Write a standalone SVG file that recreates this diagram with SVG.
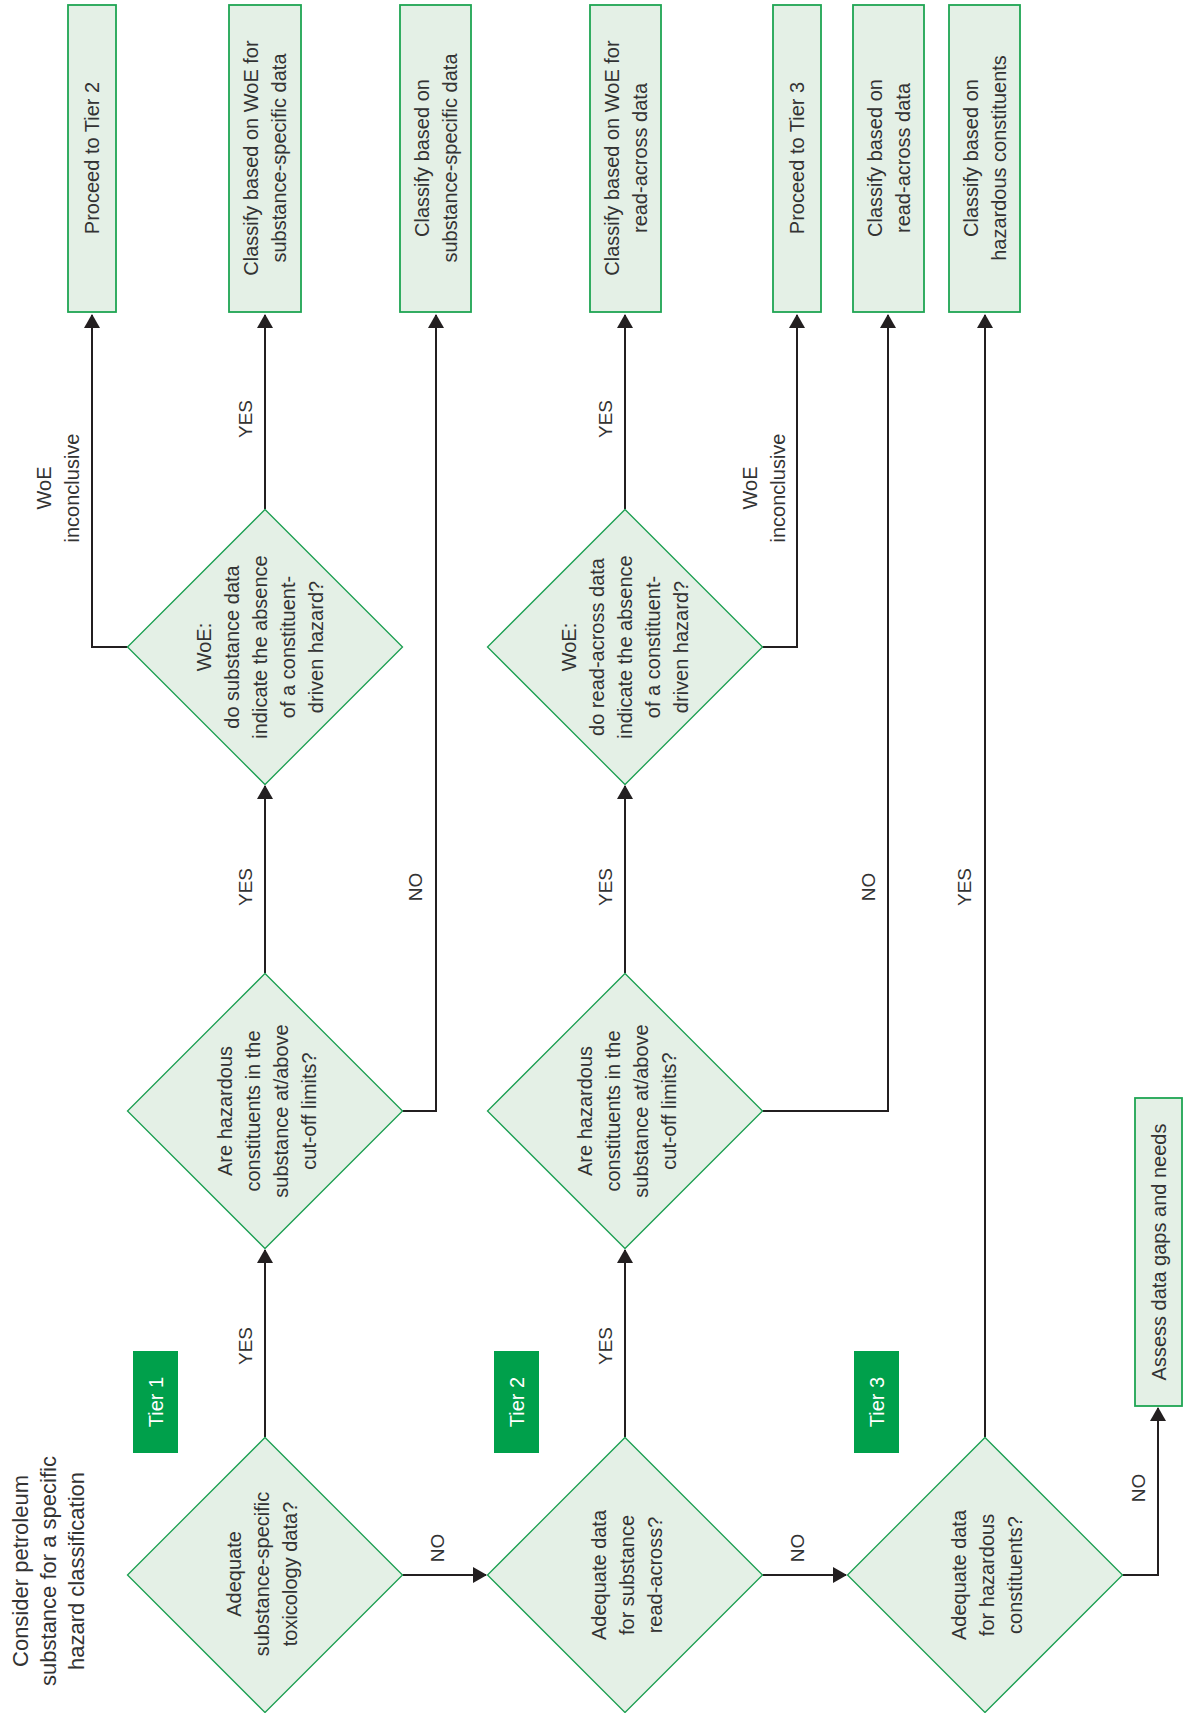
<svg xmlns="http://www.w3.org/2000/svg" width="1185" height="1713" viewBox="0 0 1185 1713">
<style>
.box{fill:#e4f0e6;stroke:#1ea553;stroke-width:1.8}
.dia{fill:#e4f0e6;stroke:#1a9e50;stroke-width:1.3}
.tier{fill:#00a04b}
.t{font-family:"Liberation Sans",Arial,sans-serif;font-size:20px;fill:#333;text-anchor:middle}
.tw{fill:#ffffff}
.lbl{font-size:19px}
.title{font-size:22px}
.c{fill:none;stroke:#231f20;stroke-width:2}
</style>
<defs>
<marker id="ah" markerWidth="14" markerHeight="16" refX="13" refY="8" orient="auto" markerUnits="userSpaceOnUse"><path d="M0,0 L14,8 L0,16 Z" fill="#231f20"/></marker>
</defs>
<rect width="1185" height="1713" fill="#ffffff"/>

<g id="connectors">
<path class="c" marker-end="url(#ah)" d="M265,1437 V1250"/>
<path class="c" marker-end="url(#ah)" d="M402.5,1575 H486"/>
<path class="c" marker-end="url(#ah)" d="M265,973 V786"/>
<path class="c" marker-end="url(#ah)" d="M402.5,1111 H436 V315"/>
<path class="c" marker-end="url(#ah)" d="M265,509 V315"/>
<path class="c" marker-end="url(#ah)" d="M127.5,647 H92 V315"/>
<path class="c" marker-end="url(#ah)" d="M625,1437 V1250"/>
<path class="c" marker-end="url(#ah)" d="M762.5,1575 H846"/>
<path class="c" marker-end="url(#ah)" d="M625,973 V786"/>
<path class="c" marker-end="url(#ah)" d="M762.5,1111 H888 V315"/>
<path class="c" marker-end="url(#ah)" d="M625,509 V315"/>
<path class="c" marker-end="url(#ah)" d="M762.5,647 H797 V315"/>
<path class="c" marker-end="url(#ah)" d="M985,1437 V315"/>
<path class="c" marker-end="url(#ah)" d="M1122.5,1575 H1158 V1408"/>
<g class="t lbl">
<text transform="translate(245,1346) rotate(-90)" y="7">YES</text>
<text transform="translate(245,887) rotate(-90)" y="7">YES</text>
<text transform="translate(245,419) rotate(-90)" y="7">YES</text>
<text transform="translate(605,1346) rotate(-90)" y="7">YES</text>
<text transform="translate(605,887) rotate(-90)" y="7">YES</text>
<text transform="translate(605,419) rotate(-90)" y="7">YES</text>
<text transform="translate(964,887) rotate(-90)" y="7">YES</text>
<text transform="translate(415,887) rotate(-90)" y="7">NO</text>
<text transform="translate(437,1548) rotate(-90)" y="7">NO</text>
<text transform="translate(797,1548) rotate(-90)" y="7">NO</text>
<text transform="translate(868,887) rotate(-90)" y="7">NO</text>
<text transform="translate(1138,1488) rotate(-90)" y="7">NO</text>
</g>
<g class="t">
<text transform="translate(58,488) rotate(-90)"><tspan x="0" y="-7">WoE</tspan><tspan x="0" y="21">inconclusive</tspan></text>
<text transform="translate(764,488) rotate(-90)"><tspan x="0" y="-7">WoE</tspan><tspan x="0" y="21">inconclusive</tspan></text>
</g>
</g>

<g id="title">
<text class="t title" transform="translate(48,1571) rotate(-90)"><tspan x="0" y="-20">Consider petroleum</tspan><tspan x="0" y="8">substance for a specific</tspan><tspan x="0" y="36">hazard classification</tspan></text>
</g>

<g id="tier1"><rect class="tier" x="133" y="1351" width="45" height="102"/><text class="t tw" transform="translate(155.5,1402) rotate(-90)" y="7">Tier 1</text></g>
<g id="tier2"><rect class="tier" x="494" y="1351" width="45" height="102"/><text class="t tw" transform="translate(516.5,1402) rotate(-90)" y="7">Tier 2</text></g>
<g id="tier3"><rect class="tier" x="854" y="1351" width="45" height="102"/><text class="t tw" transform="translate(876.5,1402) rotate(-90)" y="7">Tier 3</text></g>

<g id="d1">
<polygon class="dia" points="265,1437.5 402.5,1575 265,1712.5 127.5,1575"/>
<text class="t" transform="translate(262,1574) rotate(-90)"><tspan x="0" y="-21">Adequate</tspan><tspan x="0" y="7">substance-specific</tspan><tspan x="0" y="35">toxicology data?</tspan></text>
</g>
<g id="h1">
<polygon class="dia" points="265,973.5 402.5,1111 265,1248.5 127.5,1111"/>
<text class="t" transform="translate(267,1111) rotate(-90)"><tspan x="0" y="-35">Are hazardous</tspan><tspan x="0" y="-7">constituents in the</tspan><tspan x="0" y="21">substance at/above</tspan><tspan x="0" y="49">cut-off limits?</tspan></text>
</g>
<g id="w1">
<polygon class="dia" points="265,509.5 402.5,647 265,784.5 127.5,647"/>
<text class="t" transform="translate(260,647) rotate(-90)"><tspan x="0" y="-49">WoE:</tspan><tspan x="0" y="-21">do substance data</tspan><tspan x="0" y="7">indicate the absence</tspan><tspan x="0" y="35">of a constituent-</tspan><tspan x="0" y="63">driven hazard?</tspan></text>
</g>
<g id="d2">
<polygon class="dia" points="625,1437.5 762.5,1575 625,1712.5 487.5,1575"/>
<text class="t" transform="translate(627,1575) rotate(-90)"><tspan x="0" y="-21">Adequate data</tspan><tspan x="0" y="7">for substance</tspan><tspan x="0" y="35">read-across?</tspan></text>
</g>
<g id="h2">
<polygon class="dia" points="625,973.5 762.5,1111 625,1248.5 487.5,1111"/>
<text class="t" transform="translate(627,1111) rotate(-90)"><tspan x="0" y="-35">Are hazardous</tspan><tspan x="0" y="-7">constituents in the</tspan><tspan x="0" y="21">substance at/above</tspan><tspan x="0" y="49">cut-off limits?</tspan></text>
</g>
<g id="w2">
<polygon class="dia" points="625,509.5 762.5,647 625,784.5 487.5,647"/>
<text class="t" transform="translate(625,647) rotate(-90)"><tspan x="0" y="-49">WoE:</tspan><tspan x="0" y="-21">do read-across data</tspan><tspan x="0" y="7">indicate the absence</tspan><tspan x="0" y="35">of a constituent-</tspan><tspan x="0" y="63">driven hazard?</tspan></text>
</g>
<g id="d3">
<polygon class="dia" points="985,1437.5 1122.5,1575 985,1712.5 847.5,1575"/>
<text class="t" transform="translate(987,1575) rotate(-90)"><tspan x="0" y="-21">Adequate data</tspan><tspan x="0" y="7">for hazardous</tspan><tspan x="0" y="35">constituents?</tspan></text>
</g>

<g id="b1"><rect class="box" x="68" y="5" width="48" height="307"/><text class="t" transform="translate(92,158) rotate(-90)" y="7">Proceed to Tier 2</text></g>
<g id="b2"><rect class="box" x="229" y="5" width="72" height="307"/><text class="t" transform="translate(265,158) rotate(-90)"><tspan x="0" y="-7">Classify based on WoE for</tspan><tspan x="0" y="21">substance-specific data</tspan></text></g>
<g id="b3"><rect class="box" x="400" y="5" width="71" height="307"/><text class="t" transform="translate(435.5,158) rotate(-90)"><tspan x="0" y="-7">Classify based on</tspan><tspan x="0" y="21">substance-specific data</tspan></text></g>
<g id="b4"><rect class="box" x="590" y="5" width="71" height="307"/><text class="t" transform="translate(625.5,158) rotate(-90)"><tspan x="0" y="-7">Classify based on WoE for</tspan><tspan x="0" y="21">read-across data</tspan></text></g>
<g id="b5"><rect class="box" x="773" y="5" width="48" height="307"/><text class="t" transform="translate(797,158) rotate(-90)" y="7">Proceed to Tier 3</text></g>
<g id="b6"><rect class="box" x="853" y="5" width="71" height="307"/><text class="t" transform="translate(888.5,158) rotate(-90)"><tspan x="0" y="-7">Classify based on</tspan><tspan x="0" y="21">read-across data</tspan></text></g>
<g id="b7"><rect class="box" x="949" y="5" width="71" height="307"/><text class="t" transform="translate(984.5,158) rotate(-90)"><tspan x="0" y="-7">Classify based on</tspan><tspan x="0" y="21">hazardous constituents</tspan></text></g>
<g id="b8"><rect class="box" x="1135" y="1098" width="47" height="308"/><text class="t" transform="translate(1158.5,1252) rotate(-90)" y="7">Assess data gaps and needs</text></g>
</svg>
